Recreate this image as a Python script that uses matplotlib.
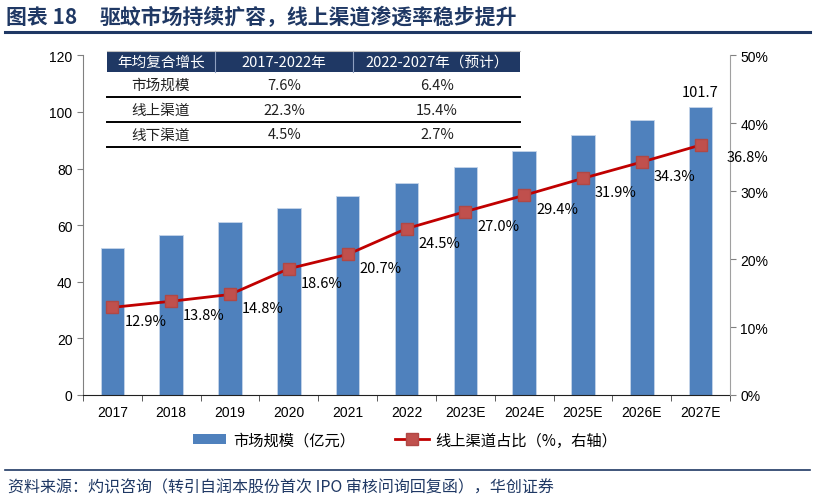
import numpy as np
import matplotlib.pyplot as plt
from matplotlib.lines import Line2D
from matplotlib.patches import Patch, Rectangle

plt.rcParams['font.family'] = ['Noto Sans CJK SC', 'DejaVu Sans']

# Data
years = ['2017', '2018', '2019', '2020', '2021', '2022',
         '2023E', '2024E', '2025E', '2026E', '2027E']
market_size = [52.0, 56.7, 61.3, 66.1, 70.4, 74.9, 80.6, 86.3, 91.7, 97.0, 101.7]
online_share = [12.9, 13.8, 14.8, 18.6, 20.7, 24.5, 27.0, 29.4, 31.9, 34.3, 36.8]

table_header = ['年均复合增长', '2017-2022年', '2022-2027年（预计）']
table_rows = [['市场规模', '7.6%', '6.4%'],
              ['线上渠道', '22.3%', '15.4%'],
              ['线下渠道', '4.5%', '2.7%']]

bar_color = '#4F81BD'
line_color = '#C00000'
marker_color = '#C0504D'
navy = '#1F3864'
num_font = ['Liberation Sans', 'Noto Sans CJK SC']

fig = plt.figure(figsize=(8.14, 5.02), dpi=100)
ax = fig.add_axes([83 / 814, 1 - 396 / 502, (730 - 83) / 814, (396 - 56.4) / 502])
x = np.arange(len(years))

# Bars
ax.bar(x, market_size, width=0.4, color=bar_color, edgecolor='#C6D5EA', linewidth=0.6, zorder=2)
ax.annotate(f'{market_size[-1]:.1f}', (x[-1], market_size[-1]), xytext=(0, 8),
            textcoords='offset pixels', ha='center', va='bottom', fontsize=10.5)

ax.set_xlim(-0.5, len(years) - 0.5)
ax.set_ylim(0, 120)
ax.set_yticks(range(0, 121, 20))
ax.set_xticks(x)
ax.set_xticklabels(years, fontsize=10, family=num_font)
ax.set_xticks(np.arange(-0.5, len(years), 1), minor=True)
ax.tick_params(axis='x', which='major', length=0, pad=7)
ax.tick_params(axis='x', which='minor', length=4, direction='out', color='#404040')
ax.tick_params(axis='y', length=4, direction='out', color='#808080', labelsize=10)
for t in ax.get_yticklabels():
    t.set_family(num_font)
ax.spines['top'].set_visible(False)
ax.spines['right'].set_visible(False)
ax.spines['left'].set_color('#808080')
ax.spines['bottom'].set_color('#202020')

# Online share line on right axis
ax2 = ax.twinx()
ax2.plot(x, online_share, color=line_color, linewidth=2.0, zorder=3)
ax2.plot(x, online_share, linestyle='none', marker='s', markersize=8.5,
         markerfacecolor=marker_color, markeredgecolor='#B04845', zorder=4)
for i, v in enumerate(online_share):
    dx, dy = (12, -14)
    if i == len(online_share) - 1:
        dx, dy = (26, -12)
    ax2.annotate(f'{v:.1f}%', (x[i], v), xytext=(dx, dy), textcoords='offset pixels',
                 ha='left', va='center', fontsize=10.5)
ax2.set_ylim(0, 50)
ax2.set_yticks(range(0, 51, 10))
ax2.set_yticklabels([f'{t}%' for t in range(0, 51, 10)], fontsize=10, family=num_font)
ax2.tick_params(axis='y', length=4, direction='out', color='#808080')
ax2.spines['top'].set_visible(False)
ax2.spines['left'].set_visible(False)
ax2.spines['bottom'].set_visible(False)
ax2.spines['right'].set_color('#A0A0A0')

# Table in the upper-left of the plot (axes fraction coords)
cols = [0.037, 0.204, 0.418, 0.676]
y_top = 1.013
header_h = 0.063
row_h = 0.073
ax.add_patch(Rectangle((cols[0], y_top - header_h), cols[-1] - cols[0], header_h,
                       transform=ax.transAxes, facecolor=navy, edgecolor='none',
                       clip_on=False, zorder=5))
for c in cols[1:-1]:
    ax.add_line(Line2D([c, c], [y_top - header_h, y_top], transform=ax.transAxes,
                       color='#8EA0C0', linewidth=0.8, clip_on=False, zorder=6))
ax.add_line(Line2D([cols[0], cols[-1]], [y_top, y_top], transform=ax.transAxes,
                   color='#C0C0C0', linewidth=0.8, clip_on=False, zorder=6))
for j, h in enumerate(table_header):
    ax.text((cols[j] + cols[j + 1]) / 2, y_top - header_h / 2, h, transform=ax.transAxes,
            ha='center', va='center', color='white', fontsize=10.5, zorder=7)
for r, row in enumerate(table_rows):
    yc = y_top - header_h - row_h * (r + 0.5)
    for j, val in enumerate(row):
        ax.text((cols[j] + cols[j + 1]) / 2, yc, val, transform=ax.transAxes,
                ha='center', va='center', color='#202020', fontsize=10.5, zorder=7)
    yb = y_top - header_h - row_h * (r + 1)
    ax.add_line(Line2D([cols[0], cols[-1]], [yb, yb], transform=ax.transAxes,
                       color='black', linewidth=1.4, clip_on=False, zorder=6))

# Legend
handles = [Patch(facecolor=bar_color, edgecolor='none'),
           Line2D([], [], color=line_color, linewidth=2.0, marker='s', markersize=8,
                  markerfacecolor=marker_color, markeredgecolor='#B04845')]
fig.legend(handles, ['市场规模（亿元）', '线上渠道占比（%，右轴）'], loc='center',
           bbox_to_anchor=(405 / 814, 1 - 441 / 502), ncol=2, frameon=False, fontsize=11,
           handlelength=2.2, handleheight=0.6, handletextpad=0.45, columnspacing=2.6)

# Title, rules and source
fig.text(6 / 814, 1 - 17 / 502, '图表 18', ha='left', va='center', fontsize=15,
         fontweight='bold', color=navy)
fig.text(100 / 814, 1 - 17 / 502, '驱蚊市场持续扩容，线上渠道渗透率稳步提升', ha='left',
         va='center', fontsize=15, fontweight='bold', color=navy)
fig.add_artist(Line2D([5 / 814, 810 / 814], [1 - 33 / 502, 1 - 33 / 502],
                      color=navy, linewidth=2.2))
fig.add_artist(Line2D([5 / 814, 810 / 814], [1 - 471 / 502, 1 - 471 / 502],
                      color=navy, linewidth=1.2))
fig.text(8 / 814, 1 - 488 / 502, '资料来源：灼识咨询（转引自润本股份首次 IPO 审核问询回复函），华创证券',
         ha='left', va='center', fontsize=11.5, color=navy)

fig.savefig('out.png', dpi=100)
